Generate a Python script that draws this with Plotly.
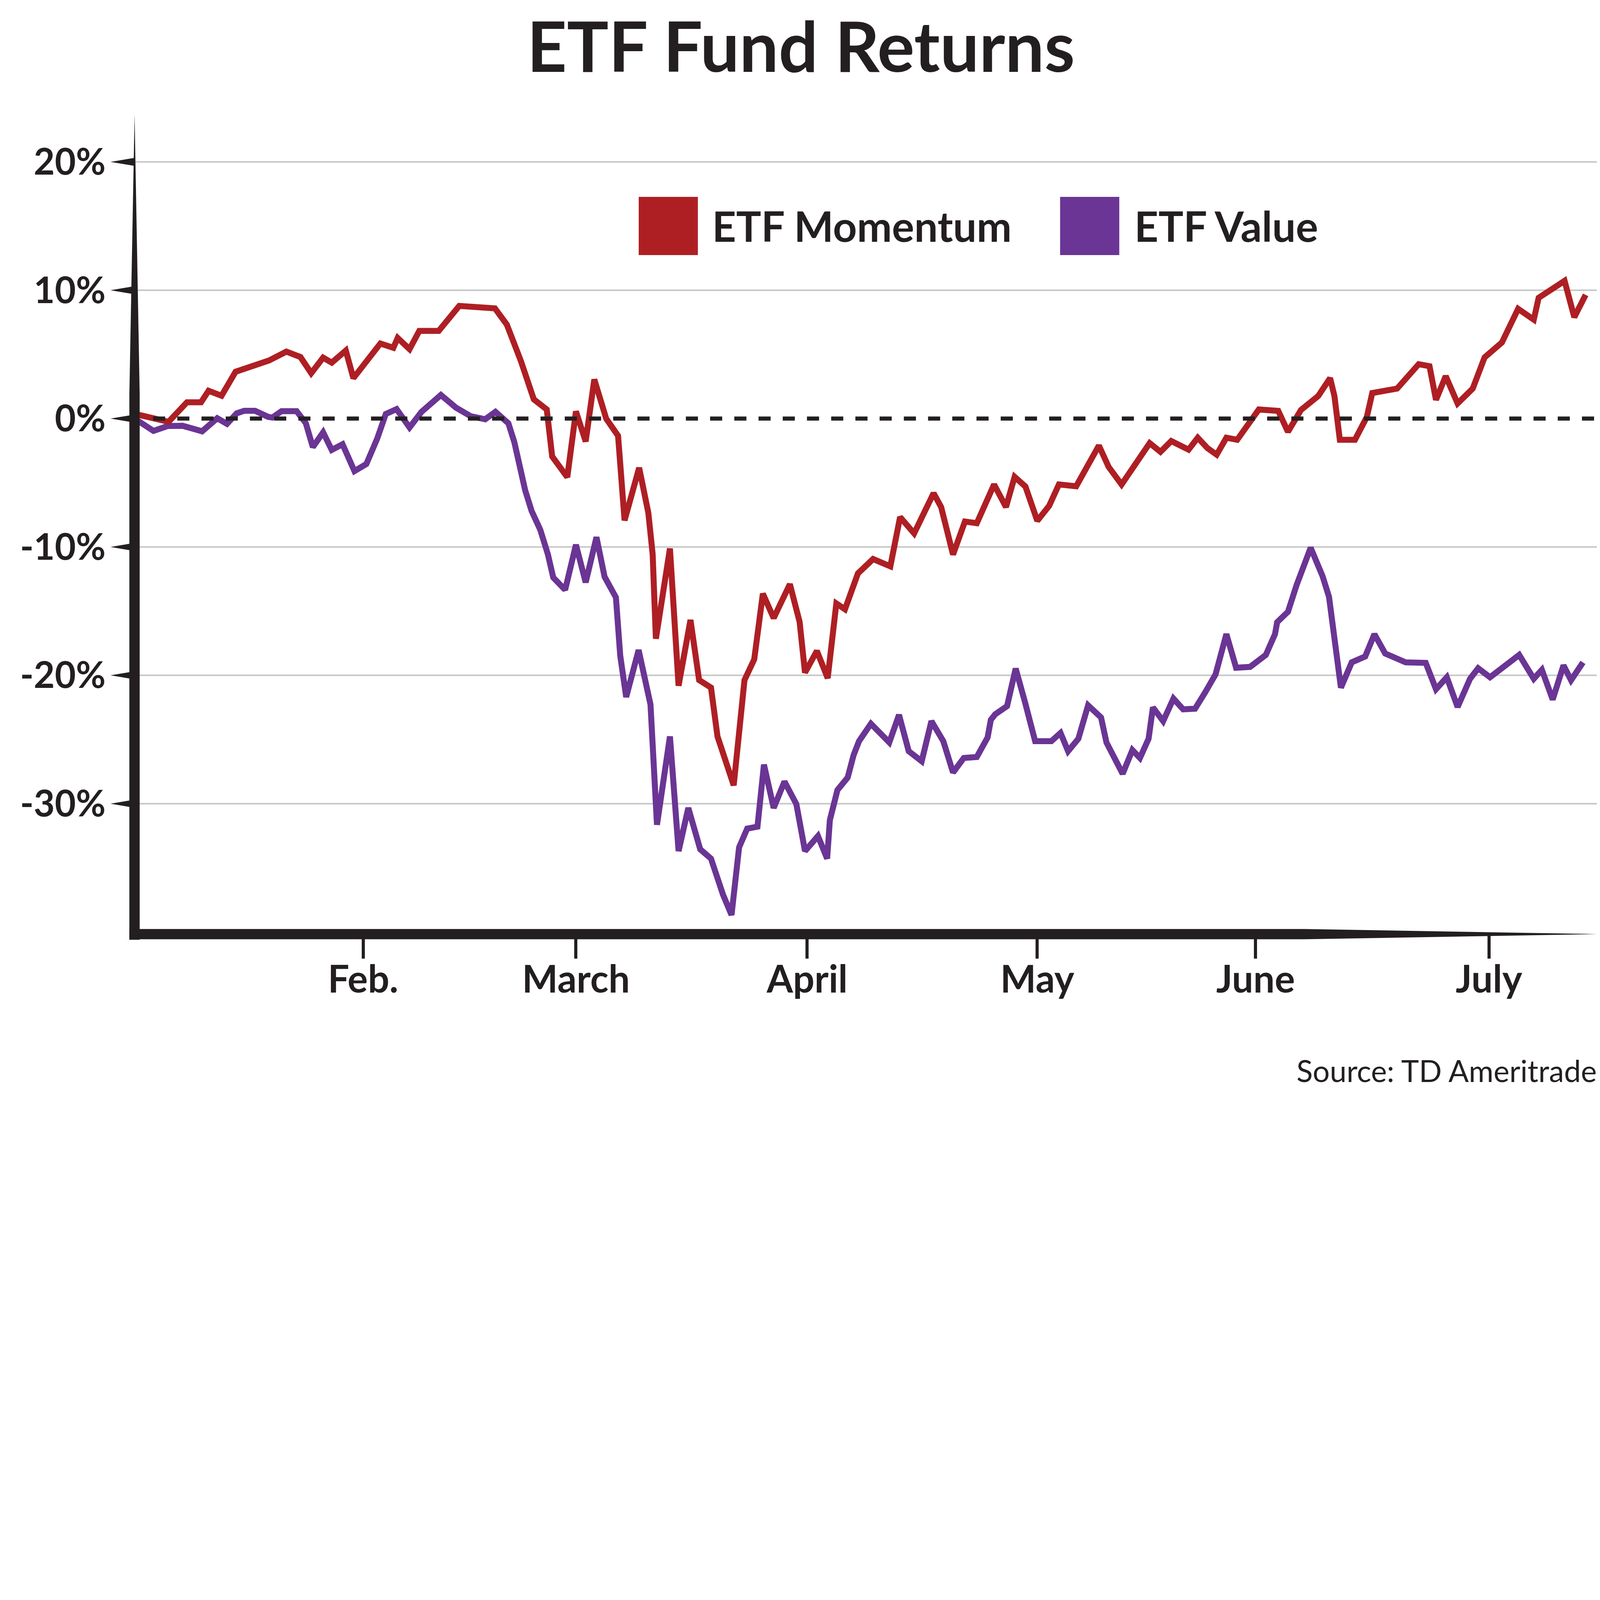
import plotly.graph_objects as go

# ---------------- data (x = trading-day index since Jan 2, y = % return) -------------
momentum_day = [0.0, 2.8, 4.5, 5.8, 6.5, 7.7, 9.0, 12.1, 13.7, 15.0, 16.0, 17.1, 17.9, 19.2, 19.9,
                22.4, 23.6, 24.0, 25.1, 26.0, 27.8, 29.7, 33.0, 34.1, 35.4, 36.6, 37.8, 38.3, 39.7,
                40.5, 41.4, 42.2, 43.3, 44.4, 45.0, 46.35, 47.2, 47.6, 47.9, 49.2, 50.0, 51.1, 51.9,
                53.0, 53.6, 55.1, 56.1, 57.0, 57.8, 58.8, 60.3, 61.2, 61.7, 62.8, 63.8, 64.6, 65.4,
                66.6, 68.0, 69.6, 70.5, 71.8, 73.6, 74.3, 75.4, 76.5, 77.6, 79.2, 80.3, 81.1, 82.1,
                83.2, 84.3, 85.2, 86.8, 88.9, 89.8, 91.0, 93.6, 94.6, 95.6, 97.2, 98.05, 98.95, 99.8,
                100.7, 101.7, 103.7, 105.5, 106.4, 107.6, 109.2, 110.3, 110.7, 111.2, 112.6, 113.7,
                114.2, 116.5, 118.5, 119.5, 120.1, 121.0, 122.1, 123.5, 124.6, 126.2, 127.7, 129.15,
                129.6, 132.0, 132.9, 133.95]
momentum_pct = [0.3, -0.25, 1.27, 1.27, 2.17, 1.78, 3.65, 4.53, 5.22, 4.8, 3.54, 4.75, 4.36, 5.3, 3.15,
                5.85, 5.52, 6.28, 5.41, 6.83, 6.83, 8.78, 8.59, 7.33, 4.5, 1.5, 0.71, -2.95, -4.56,
                0.56, -1.78, 3.05, 0.0, -1.34, -7.93, -3.83, -7.34, -10.56, -17.15, -10.12, -20.81, -15.69, -20.37,
                -20.96, -24.76, -28.57, -20.37, -18.76, -13.64, -15.54, -12.9, -15.83, -19.79, -18.1, -20.22, -14.4, -14.85,
                -12.06, -10.94, -11.51, -7.67, -8.94, -5.81, -6.89, -10.59, -8.02, -8.15, -5.13, -6.89, -4.54, -5.29,
                -7.96, -6.79, -5.13, -5.27, -2.1, -3.76, -5.13, -1.91, -2.59, -1.75, -2.42, -1.49, -2.3, -2.81,
                -1.49, -1.65, 0.71, 0.6, -1.03, 0.67, 1.76, 3.15, 1.76, -1.65, -1.65, 0.13,
                1.99, 2.34, 4.24, 4.08, 1.46, 3.31, 1.18, 2.34, 4.77, 5.93, 8.55, 7.71,
                9.41, 10.73, 7.9, 9.64]

value_day = [0.0, 1.4, 2.7, 4.1, 5.9, 7.3, 8.2, 9.1, 9.8, 10.8, 12.0, 12.4, 13.25, 14.65, 15.5, 16.15,
             17.1, 17.9, 18.9, 20.0, 21.1, 22.1, 22.9, 23.9, 25.1, 26.2, 28.0, 29.4, 30.75, 32.1, 33.05,
             34.25, 34.8, 35.4, 35.8, 36.4, 37.2, 37.9, 38.4, 39.5, 40.5, 41.4, 42.4, 43.15, 44.2, 44.6,
             45.15, 46.3, 47.1, 47.4, 48.0, 49.2, 50.0, 50.9, 52.0, 53.0, 54.1, 54.9, 55.6, 56.35, 57.3,
             57.9, 58.8, 59.8, 60.9, 61.7, 62.9, 63.75, 64.0, 64.7, 65.65, 66.2, 66.7, 67.8, 69.5, 70.4,
             71.3, 72.5, 73.4, 74.5, 75.4, 76.4, 77.6, 78.6, 78.9, 79.3, 80.4, 81.2, 82.1, 83.0, 84.5,
             85.35, 86.05, 87.0, 87.9, 89.1, 89.6, 91.1, 92.0, 92.7, 93.5, 93.9, 94.85, 95.8, 96.7, 97.8,
             98.75, 99.7, 100.7, 101.6, 102.9, 104.35, 105.2, 105.4, 106.4, 107.2, 108.5, 109.6, 110.2,
             110.6, 111.3, 112.3, 113.55, 114.4, 115.4, 117.3, 119.15, 120.1, 121.1, 122.1, 123.25, 124.0,
             125.1, 127.8, 129.15, 129.9, 130.9, 131.9, 132.6, 133.7]
value_pct = [-0.19, -0.96, -0.58, -0.56, -0.99, 0.03, -0.41, 0.41, 0.61, 0.61, 0.14, 0.08, 0.58, 0.58, -0.36, -2.22,
             -1.07, -2.44, -2.0, -4.09, -3.54, -1.57, 0.36, 0.74, -0.69, 0.52, 1.84, 0.85, 0.19, -0.05, 0.53,
             -0.37, -1.84, -4.41, -5.58, -7.2, -8.66, -10.56, -12.38, -13.34, -9.83, -12.76, -9.24, -12.32, -13.93, -18.47,
             -21.69, -18.03, -21.1, -22.27, -31.64, -24.76, -33.69, -30.33, -33.55, -34.28, -37.06, -38.67, -33.4, -31.94, -31.79,
             -26.96, -30.33, -28.28, -30.03, -33.69, -32.52, -34.28, -31.28, -28.94, -27.96, -26.21, -25.13, -23.77, -25.23, -23.08,
             -25.91, -26.69, -23.57, -25.13, -27.57, -26.44, -26.36, -24.84, -23.47, -23.04, -22.4, -19.47, -22.21, -25.13, -25.13,
             -24.49, -25.91, -24.94, -22.34, -23.28, -25.23, -27.67, -25.82, -26.44, -24.94, -22.5, -23.57, -21.81, -22.65, -22.6,
             -21.31, -19.92, -16.79, -19.41, -19.34, -18.41, -16.79, -15.86, -15.05, -12.96, -10.06, -12.27, -13.89,
             -16.79, -20.96, -18.99, -18.53, -16.79, -18.3, -18.99, -19.03, -21.08, -20.15, -22.47, -20.27, -19.45,
             -20.15, -18.41, -20.27, -19.57, -21.89, -19.22, -20.38, -18.99]

month_pos = [20.8, 40.5, 61.9, 83.2, 103.4, 125.0]
month_labels = ["Feb.", "March", "April", "May", "June", "July"]
pct_ticks = [20, 10, 0, -10, -20, -30]
pct_labels = ["20%", "10%", "0%", "-10%", "-20%", "-30%"]
grid_vals = [20, 10, -10, -20, -30]
series_names = ["ETF Momentum", "ETF Value"]

# ---------------- style ----------------
RED = "#AE1F24"
PURPLE = "#6A3594"
INK = "#231F20"
GRID = "#C8C8C8"
FONT = "Lato"

W, H = 4080, 2784
ML, MR, MT, MB = 337, 0, 295, 402
PW, PH = W - ML - MR, H - MT - MB
S, OFF = 2.612, 8   # reference pixel -> css pixel, page body offset


def px(d):  # reference-pixel x -> paper
    return (d * S - OFF - ML) / PW


def py(d):  # reference-pixel y -> paper
    return (MT + PH - (d * S - OFF)) / PH


def poly(pts):
    return "M " + " L ".join(f"{px(a):.5f},{py(b):.5f}" for a, b in pts) + " Z"


fig = go.Figure()
fig.add_trace(go.Scatter(x=value_day, y=value_pct, mode="lines", name=series_names[1],
                         line=dict(color=PURPLE, width=15.3), hoverinfo="skip", showlegend=False))
fig.add_trace(go.Scatter(x=momentum_day, y=momentum_pct, mode="lines", name=series_names[0],
                         line=dict(color=RED, width=15.3), hoverinfo="skip", showlegend=False))

shapes = []
for g in grid_vals:
    shapes.append(dict(type="line", xref="paper", yref="y", x0=0, x1=1, y0=g, y1=g,
                       line=dict(color=GRID, width=4), layer="below"))
# dashed zero line
shapes.append(dict(type="line", xref="paper", yref="y", x0=px(150), x1=1, y0=0, y1=0,
                   line=dict(color=INK, width=10.5, dash="31px,31px"), layer="above"))
# tapered y axis
shapes.append(dict(type="path", xref="paper", yref="paper",
                   path=poly([(131.9, 112), (136.9, 386), (136.9, 921), (126.8, 921), (126.8, 386)]),
                   fillcolor=INK, line=dict(width=0), layer="above"))
# tapered x axis bar
shapes.append(dict(type="path", xref="paper", yref="paper",
                   path=poly([(126.8, 910.5), (1278, 910.5), (1566, 915.5), (1278, 920.6), (126.8, 920.6)]),
                   fillcolor=INK, line=dict(width=0), layer="above"))
# triangle tick marks on the y axis
for t in pct_ticks:
    p = f"M {px(108.3):.5f},{t} L {px(131.5):.5f},{t + 0.31} L {px(131.5):.5f},{t - 0.31} Z"
    shapes.append(dict(type="path", xref="paper", yref="y", path=p,
                       fillcolor=INK, line=dict(width=0), layer="above"))
# legend swatches
shapes.append(dict(type="rect", xref="paper", yref="paper", x0=px(626), x1=px(684), y0=py(250), y1=py(193),
                   fillcolor=RED, line=dict(width=0)))
shapes.append(dict(type="rect", xref="paper", yref="paper", x0=px(1039), x1=px(1097), y0=py(250), y1=py(193),
                   fillcolor=PURPLE, line=dict(width=0)))

annotations = [
    dict(text=series_names[0], xref="paper", yref="paper", x=px(697), y=py(221), xanchor="left",
         yanchor="middle", showarrow=False, font=dict(family=FONT, size=107, color=INK, weight="bold")),
    dict(text=series_names[1], xref="paper", yref="paper", x=px(1111), y=py(221), xanchor="left",
         yanchor="middle", showarrow=False, font=dict(family=FONT, size=107, color=INK, weight="bold")),
    dict(text="Source: TD Ameritrade", xref="paper", yref="paper", x=px(1566), y=py(1049), xanchor="right",
         yanchor="middle", showarrow=False, font=dict(family=FONT, size=77, color=INK)),
    dict(text="ETF Fund Returns", xref="paper", yref="paper", x=px(785), y=py(44), xanchor="center",
         yanchor="middle", showarrow=False, font=dict(family=FONT, size=178, color=INK, weight="bold")),
]

fig.update_layout(
    width=W, height=H, margin=dict(l=ML, r=MR, t=MT, b=MB, pad=0),
    paper_bgcolor="white", plot_bgcolor="white",
    shapes=shapes, annotations=annotations, showlegend=False,
    xaxis=dict(range=[-0.332, 134.99], tickvals=month_pos, ticktext=month_labels,
               ticks="outside", ticklen=63, tickwidth=8, tickcolor=INK, ticklabelstandoff=-29,
               showgrid=False, zeroline=False, showline=False,
               tickfont=dict(family=FONT, size=97, color=INK, weight="bold")),
    yaxis=dict(range=[-40.12, 23.39], tickvals=pct_ticks, ticktext=pct_labels,
               ticks="outside", ticklen=55, tickcolor="rgba(0,0,0,0)",
               showgrid=False, zeroline=False, showline=False,
               tickfont=dict(family=FONT, size=93, color=INK, weight="bold")),
)

fig.write_html("out.html")
